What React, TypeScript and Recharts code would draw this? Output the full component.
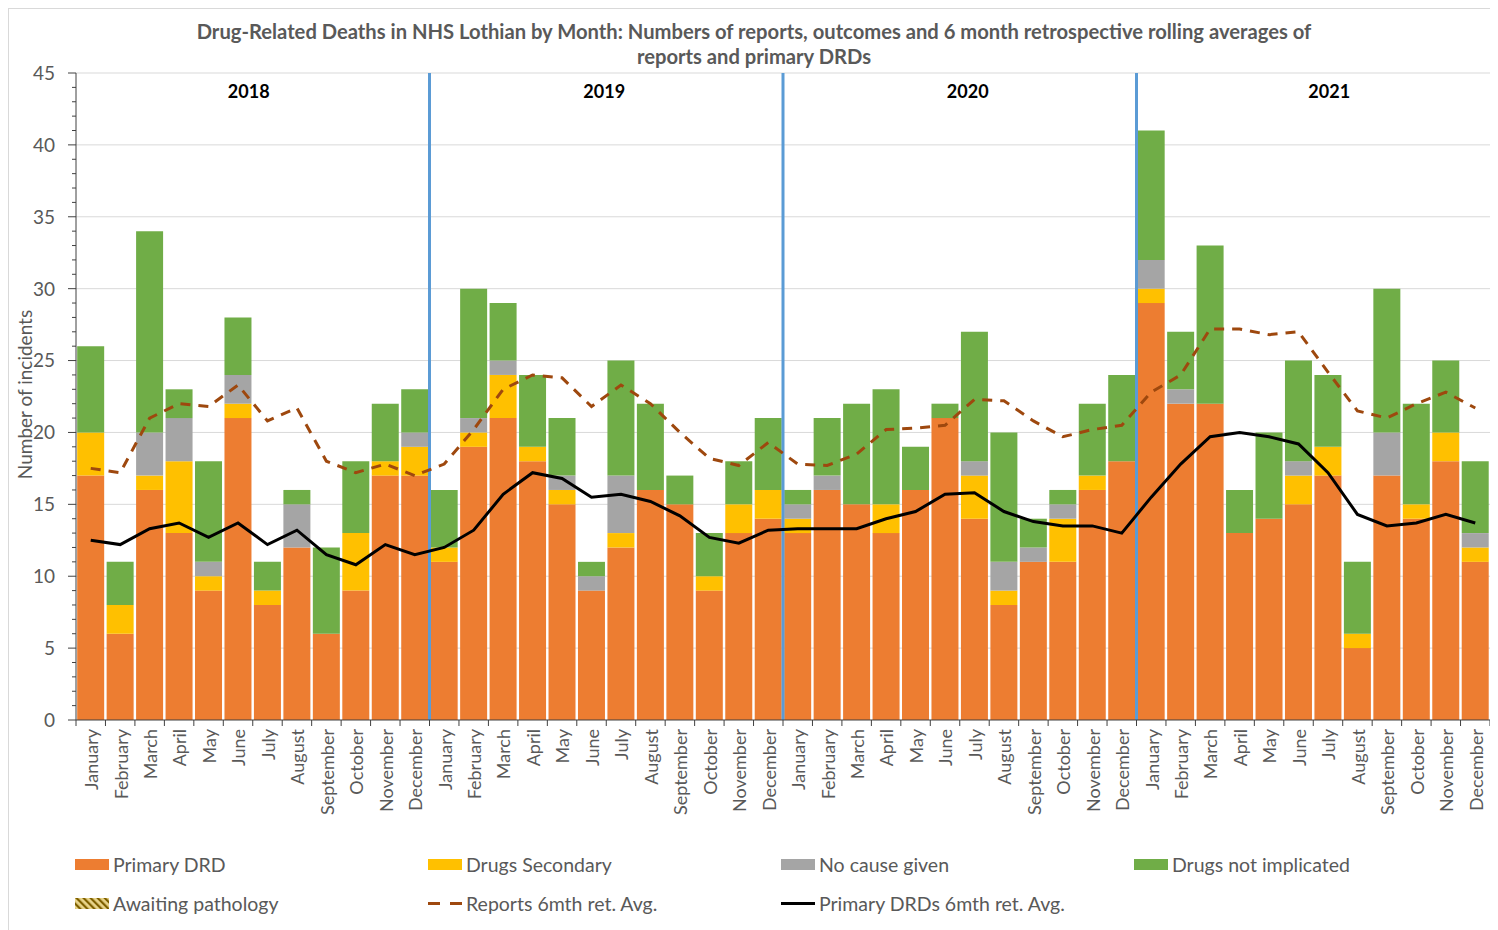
import React from "react";
import {
  ComposedChart, Bar, Line, XAxis, YAxis, CartesianGrid, ReferenceLine, Legend
} from "recharts";

const months = [
  "January", "February", "March", "April", "May", "June",
  "July", "August", "September", "October", "November", "December"
];
const years = [2018, 2019, 2020, 2021];

// monthly counts, Jan 2018 .. Dec 2021
const primaryDRD = [
  17, 6, 16, 13, 9, 21, 8, 12, 6, 9, 17, 17,
  11, 19, 21, 18, 15, 9, 12, 16, 15, 9, 13, 14,
  13, 16, 15, 13, 16, 21, 14, 8, 11, 11, 16, 18,
  29, 22, 22, 13, 14, 15, 17, 5, 17, 14, 18, 11
];
const drugsSecondary = [
  3, 2, 1, 5, 1, 1, 1, 0, 0, 4, 1, 2,
  1, 1, 3, 1, 1, 0, 1, 0, 0, 1, 2, 2,
  1, 0, 0, 2, 0, 0, 3, 1, 0, 3, 1, 0,
  1, 0, 0, 0, 0, 2, 2, 1, 0, 1, 2, 1
];
const noCauseGiven = [
  0, 0, 3, 3, 1, 2, 0, 3, 0, 0, 0, 1,
  0, 1, 1, 0, 1, 1, 4, 0, 0, 0, 0, 0,
  1, 1, 0, 0, 0, 0, 1, 2, 1, 1, 0, 0,
  2, 1, 0, 0, 0, 1, 0, 0, 3, 0, 0, 1
];
const drugsNotImplicated = [
  6, 3, 14, 2, 7, 4, 2, 1, 6, 5, 4, 3,
  4, 9, 4, 5, 4, 1, 8, 6, 2, 3, 3, 5,
  1, 4, 7, 8, 3, 1, 9, 9, 2, 1, 5, 6,
  9, 4, 11, 3, 6, 7, 5, 5, 10, 7, 5, 5
];
const awaitingPathology = [
  0, 0, 0, 0, 0, 0, 0, 0, 0, 0, 0, 0,
  0, 0, 0, 0, 0, 0, 0, 0, 0, 0, 0, 0,
  0, 0, 0, 0, 0, 0, 0, 0, 0, 0, 0, 0,
  0, 0, 0, 0, 0, 0, 0, 0, 0, 0, 0, 0
];
// 6 month retrospective rolling averages
const reportsAvg = [
  17.5, 17.2, 21.0, 22.0, 21.8, 23.3, 20.8, 21.7, 18.0, 17.2, 17.8, 17.0,
  17.8, 20.2, 23.0, 24.0, 23.8, 21.8, 23.3, 22.0, 20.0, 18.2, 17.7, 19.3,
  17.8, 17.7, 18.5, 20.2, 20.3, 20.5, 22.3, 22.2, 20.8, 19.7, 20.2, 20.5,
  22.8, 24.0, 27.2, 27.2, 26.8, 27.0, 24.2, 21.5, 21.0, 22.0, 22.8, 21.7
];
const primaryAvg = [
  12.5, 12.2, 13.3, 13.7, 12.7, 13.7, 12.2, 13.2, 11.5, 10.8, 12.2, 11.5,
  12.0, 13.2, 15.7, 17.2, 16.8, 15.5, 15.7, 15.2, 14.2, 12.7, 12.3, 13.2,
  13.3, 13.3, 13.3, 14.0, 14.5, 15.7, 15.8, 14.5, 13.8, 13.5, 13.5, 13.0,
  15.5, 17.8, 19.7, 20.0, 19.7, 19.2, 17.2, 14.3, 13.5, 13.7, 14.3, 13.7
];
const yTicks = [
  0, 1, 2, 3, 4, 5, 6, 7, 8, 9, 10, 11, 12, 13, 14, 15, 16, 17, 18, 19, 20, 21, 22,
  23, 24, 25, 26, 27, 28, 29, 30, 31, 32, 33, 34, 35, 36, 37, 38, 39, 40, 41, 42, 43, 44, 45
];
const gridValues = [5, 10, 15, 20, 25, 30, 35, 40, 45];

const data = years.flatMap((yr, yi) =>
  months.map((m, mi) => {
    const i = yi * 12 + mi;
    return {
      key: `${yr}-${mi + 1}`,
      month: m,
      primary: primaryDRD[i],
      secondary: drugsSecondary[i],
      noCause: noCauseGiven[i],
      notImplicated: drugsNotImplicated[i],
      awaiting: awaitingPathology[i],
      reportsAvg: reportsAvg[i],
      primaryAvg: primaryAvg[i]
    };
  })
);

const FONT = "Lato, 'Open Sans', sans-serif";
const TEXT = "#595959";
const AXIS = "#404040";
const W = 1490;
const H = 922;
const MARGIN = { top: 64, right: 9, bottom: 101, left: 7 };
const Y_AXIS_W = 60;
const BAND = (W - MARGIN.left - MARGIN.right - Y_AXIS_W) / data.length;

const XTick = (props: any) => {
  const { x, y, payload, index } = props;
  const label = data.find((d) => d.key === payload.value)?.month ?? "";
  return (
    <g>
      <line x1={x - BAND / 2} x2={x - BAND / 2} y1={y} y2={y + 6} stroke={AXIS} />
      {index === data.length - 1 && (
        <line x1={x + BAND / 2} x2={x + BAND / 2} y1={y} y2={y + 6} stroke={AXIS} />
      )}
      <text
        transform={`translate(${x + 1},${y + 9}) rotate(-90)`}
        textAnchor="end"
        dy="0.35em"
        fill={TEXT}
        fontSize={18}
        fontFamily={FONT}
      >
        {label}
      </text>
    </g>
  );
};

const YTick = (props: any) => {
  const { x, y, payload } = props;
  const major = payload.value % 5 === 0;
  return (
    <g>
      <line x1={x - (major ? 8 : 4)} x2={x} y1={y} y2={y} stroke={AXIS} />
      {major && (
        <text x={x - 21} y={y} dy="0.36em" textAnchor="end" fill={TEXT} fontSize={19} fontFamily={FONT}>
          {payload.value}
        </text>
      )}
    </g>
  );
};

const yearLabel = (text: string, dx: number) => (props: any) => {
  const { viewBox } = props;
  return (
    <text
      x={viewBox.x + dx}
      y={viewBox.y + 19}
      dy="0.35em"
      textAnchor="middle"
      fontWeight="bold"
      fontSize={18}
      fontFamily={FONT}
      fill="#000"
    >
      {text}
    </text>
  );
};

const hatch = (
  <svg width={34} height={11} style={{ display: "block" }}>
    <defs>
      <pattern id="awaitHatch" width={5} height={5} patternUnits="userSpaceOnUse" patternTransform="rotate(-45)">
        <rect width={5} height={5} fill="#e8d48a" />
        <line x1={1} y1={0} x2={1} y2={5} stroke="#7f6000" strokeWidth={2.4} />
      </pattern>
    </defs>
    <rect width={34} height={11} fill="url(#awaitHatch)" />
  </svg>
);

const legendRows = [
  [
    { name: "Primary DRD", kind: "rect", color: "#ED7D31" },
    { name: "Drugs Secondary", kind: "rect", color: "#FFC000" },
    { name: "No cause given", kind: "rect", color: "#A5A5A5" },
    { name: "Drugs not implicated", kind: "rect", color: "#70AD47" }
  ],
  [
    { name: "Awaiting pathology", kind: "hatch", color: "#7f6000" },
    { name: "Reports 6mth ret. Avg.", kind: "dash", color: "#9E480E" },
    { name: "Primary DRDs 6mth ret. Avg.", kind: "line", color: "#000" }
  ]
];

const swatch = (kind: string, color: string) => {
  if (kind === "rect") return <div style={{ width: 34, height: 11, background: color }} />;
  if (kind === "hatch") return hatch;
  return (
    <svg width={34} height={11} style={{ display: "block" }}>
      <line
        x1={0} x2={34} y1={5.5} y2={5.5}
        stroke={color}
        strokeWidth={3}
        strokeDasharray={kind === "dash" ? "12 10" : undefined}
      />
    </svg>
  );
};

const renderLegend = () => (
  <div style={{ fontFamily: FONT, fontSize: 19.5, color: TEXT }}>
    {legendRows.map((row, ri) => (
      <div key={ri} style={{ display: "flex", height: 39, alignItems: "center" }}>
        {row.map((it) => (
          <div key={it.name} style={{ width: 353, display: "flex", alignItems: "center" }}>
            {swatch(it.kind, it.color)}
            <span style={{ marginLeft: 4, whiteSpace: "nowrap" }}>{it.name}</span>
          </div>
        ))}
      </div>
    ))}
  </div>
);

export default function App() {
  return (
    <div
      style={{
        position: "relative",
        width: W,
        height: H,
        borderTop: "1px solid #d9d9d9",
        borderLeft: "1px solid #d9d9d9",
        fontFamily: FONT
      }}
    >
      <div
        style={{
          position: "absolute",
          top: 10,
          left: 0,
          width: W,
          textAlign: "center",
          fontWeight: "bold",
          fontSize: 20.2,
          lineHeight: "25px",
          color: TEXT,
          zIndex: 1
        }}
      >
        Drug-Related Deaths in NHS Lothian by Month: Numbers of reports, outcomes and 6 month retrospective rolling averages of
        <br />
        reports and primary DRDs
      </div>
      <ComposedChart width={W} height={H} data={data} margin={MARGIN} barCategoryGap="4%">
        <CartesianGrid horizontal vertical={false} horizontalValues={gridValues} stroke="#d9d9d9" />
        <XAxis
          dataKey="key"
          height={110}
          interval={0}
          tickSize={0}
          tickMargin={0}
          tickLine={false}
          tick={<XTick />}
          stroke={AXIS}
        />
        <YAxis
          width={Y_AXIS_W}
          domain={[0, 45]}
          ticks={yTicks}
          interval={0}
          tickSize={0}
          tickMargin={0}
          tickLine={false}
          tick={<YTick />}
          stroke={AXIS}
          label={(props: any) => {
            const { viewBox } = props;
            const cx = viewBox.x + 9;
            const cy = viewBox.y + viewBox.height / 2 - 2;
            return (
              <text
                transform={`translate(${cx},${cy}) rotate(-90)`}
                textAnchor="middle"
                dy="0.35em"
                fill={TEXT}
                fontSize={19}
                fontFamily={FONT}
              >
                Number of incidents
              </text>
            );
          }}
        />
        <Bar dataKey="primary" name="Primary DRD" stackId="a" fill="#ED7D31" isAnimationActive={false} />
        <Bar dataKey="secondary" name="Drugs Secondary" stackId="a" fill="#FFC000" isAnimationActive={false} />
        <Bar dataKey="noCause" name="No cause given" stackId="a" fill="#A5A5A5" isAnimationActive={false} />
        <Bar dataKey="notImplicated" name="Drugs not implicated" stackId="a" fill="#70AD47" isAnimationActive={false} />
        <Bar dataKey="awaiting" name="Awaiting pathology" stackId="a" fill="url(#awaitHatch)" isAnimationActive={false} />
        <ReferenceLine x="2018-12" position="end" stroke="#5B9BD5" strokeWidth={3} />
        <ReferenceLine x="2019-12" position="end" stroke="#5B9BD5" strokeWidth={3} />
        <ReferenceLine x="2020-12" position="end" stroke="#5B9BD5" strokeWidth={3} />
        <ReferenceLine x="2018-6" position="end" stroke="none" label={yearLabel("2018", -4)} />
        <ReferenceLine x="2019-6" position="end" stroke="none" label={yearLabel("2019", -2)} />
        <ReferenceLine x="2020-6" position="end" stroke="none" label={yearLabel("2020", 8)} />
        <ReferenceLine x="2021-6" position="end" stroke="none" label={yearLabel("2021", 16)} />
        <Line
          type="linear"
          dataKey="reportsAvg"
          name="Reports 6mth ret. Avg."
          stroke="#9E480E"
          strokeWidth={3}
          strokeDasharray="10 8"
          dot={false}
          activeDot={false}
          isAnimationActive={false}
        />
        <Line
          type="linear"
          dataKey="primaryAvg"
          name="Primary DRDs 6mth ret. Avg."
          stroke="#000"
          strokeWidth={3}
          dot={false}
          activeDot={false}
          isAnimationActive={false}
        />
        <Legend
          layout="horizontal"
          verticalAlign="middle"
          align="center"
          content={renderLegend}
          wrapperStyle={{ top: 836, left: 66, width: 1420, height: 78 }}
        />
      </ComposedChart>
    </div>
  );
}
